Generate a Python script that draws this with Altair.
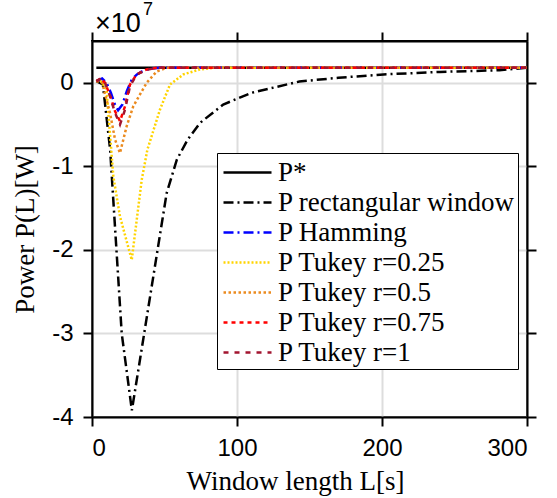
import altair as alt
import pandas as pd

names = ["P*", "P rectangular window", "P Hamming", "P Tukey r=0.25",
         "P Tukey r=0.5", "P Tukey r=0.75", "P Tukey r=1"]
colors = ["#000000", "#000000", "#0000FF", "#FFD400", "#EB8A1E", "#FF0000", "#A2142F"]
dashes = [[1, 0], [10, 4, 2, 4], [10, 4, 2, 4], [2, 2], [2.5, 2.5], [4, 4], [5, 6]]
widths = [2.5, 2.5, 2.5, 1.6, 2.5, 3.5, 5]

# values in units of 1e7 W
star_x = [3, 300]
star_y = [0.18, 0.18]
rect_x = [3, 7.5, 12.5, 20.5, 27.5, 51.5, 58.5, 66, 74.5, 90.5, 110, 143, 170, 201, 240, 281, 300]
rect_y = [0.02, -0.02, -0.8, -3.0, -3.92, -1.32, -0.92, -0.68, -0.48, -0.26, -0.12, 0.015, 0.06, 0.1, 0.13, 0.15, 0.18]
ham_x = [3, 7, 10, 13, 16, 18, 21, 24, 27.5, 31, 34.5, 40, 47, 300]
ham_y = [0.02, 0.05, 0.0, -0.12, -0.27, -0.33, -0.26, -0.1, 0.04, 0.1, 0.135, 0.17, 0.18, 0.18]
t25_x = [3, 6, 10, 14.7, 19.3, 27.4, 34.3, 38.2, 46.9, 53.8, 63, 74.5, 85, 300]
t25_y = [0.02, 0.02, -0.08, -1.12, -1.6, -2.12, -1.16, -0.8, -0.32, -0.02, 0.1, 0.16, 0.18, 0.18]
t50_x = [3, 7, 12.4, 15.9, 19.3, 23.9, 28.5, 33.1, 37.7, 44.6, 51.5, 300]
t50_y = [0.02, 0.0, -0.36, -0.68, -0.84, -0.52, -0.28, -0.14, 0.0, 0.135, 0.18, 0.18]
t75_x = [3, 6, 9, 12.4, 15.9, 19.3, 22.8, 26.2, 30.8, 37.7, 45, 300]
t75_y = [0.02, 0.05, 0.0, -0.15, -0.34, -0.46, -0.28, -0.02, 0.1, 0.16, 0.18, 0.18]
t100_x = [3, 6, 9, 12.4, 15.9, 19.3, 22.8, 26.2, 30.8, 37.7, 45, 300]
t100_y = [0.02, 0.05, 0.0, -0.16, -0.36, -0.5, -0.32, -0.04, 0.1, 0.155, 0.18, 0.18]

series = [(star_x, star_y), (rect_x, rect_y), (ham_x, ham_y), (t25_x, t25_y),
          (t50_x, t50_y), (t75_x, t75_y), (t100_x, t100_y)]
rows = []
for name, (xs, ys) in zip(names, series):
    for i, (xv, yv) in enumerate(zip(xs, ys)):
        rows.append({"x": xv, "y": yv, "series": name, "idx": i})
df = pd.DataFrame(rows)

xscale = alt.Scale(domain=[0, 300], nice=False)
yscale = alt.Scale(domain=[-4, 0.5], nice=False)

leg = alt.Legend(
    title=None, orient="none", legendX=125, legendY=112,
    fillColor="white", strokeColor="black", padding=3,
    symbolType="M-1.6,0L1.6,0", symbolSize=900, symbolOffset=11,
    labelFont="Liberation Serif", labelFontSize=27, labelColor="black",
    labelOffset=14, rowPadding=0, labelLimit=400,
)

lines = alt.Chart(df).mark_line(clip=True).encode(
    x=alt.X("x:Q", scale=xscale,
            axis=alt.Axis(values=[0, 100, 200, 300], title="Window length L[s]",
                          labelPadding=10, titlePadding=8, titleX=203)),
    y=alt.Y("y:Q", scale=yscale,
            axis=alt.Axis(values=[-4, -3, -2, -1, 0], labelExpr="'' + datum.value",
                          title="Power P(L)[W]", labelPadding=10, titlePadding=12)),
    color=alt.Color("series:N", scale=alt.Scale(domain=names, range=colors), legend=leg),
    strokeDash=alt.StrokeDash("series:N", scale=alt.Scale(domain=names, range=dashes), legend=leg),
    strokeWidth=alt.StrokeWidth("series:N", scale=alt.Scale(domain=names, range=widths), legend=leg),
    order="idx:Q",
)

frame = alt.Chart(df).mark_point(opacity=0).encode(
    x=alt.X("x:Q", scale=xscale,
            axis=alt.Axis(orient="top", values=[0, 100, 200, 300], labels=False,
                          grid=False, title=None)),
    y=alt.Y("y:Q", scale=yscale,
            axis=alt.Axis(orient="right", values=[-4, -3, -2, -1, 0], labels=False,
                          grid=False, title=None)),
)

exp_base = alt.Chart(pd.DataFrame({"t": ["×10"]})).mark_text(
    align="left", baseline="alphabetic", font="Liberation Sans", fontSize=27, color="black"
).encode(text="t:N", x=alt.value(3), y=alt.value(-9))
exp_sup = alt.Chart(pd.DataFrame({"t": ["7"]})).mark_text(
    align="left", baseline="alphabetic", font="Liberation Sans", fontSize=18, color="black"
).encode(text="t:N", x=alt.value(51), y=alt.value(-26))

chart = alt.layer(lines, frame, exp_base, exp_sup).resolve_axis(
    x="independent", y="independent"
).properties(
    width=435, height=376,
    autosize=alt.AutoSizeParams(type="none"),
    padding={"left": 92, "top": 41, "right": 30, "bottom": 81},
    background="white",
).configure_view(stroke="black", strokeWidth=2).configure_axis(
    domainColor="black", domainWidth=2, tickColor="black", tickWidth=2, tickSize=9,
    labelFont="Liberation Sans", labelFontSize=24, labelColor="black",
    titleFont="Liberation Serif", titleFontSize=27, titleFontWeight="normal",
    titleColor="black", gridColor="#dddddd", gridWidth=2,
)

chart.save("out.html", embed_options={"renderer": "svg", "actions": False})
